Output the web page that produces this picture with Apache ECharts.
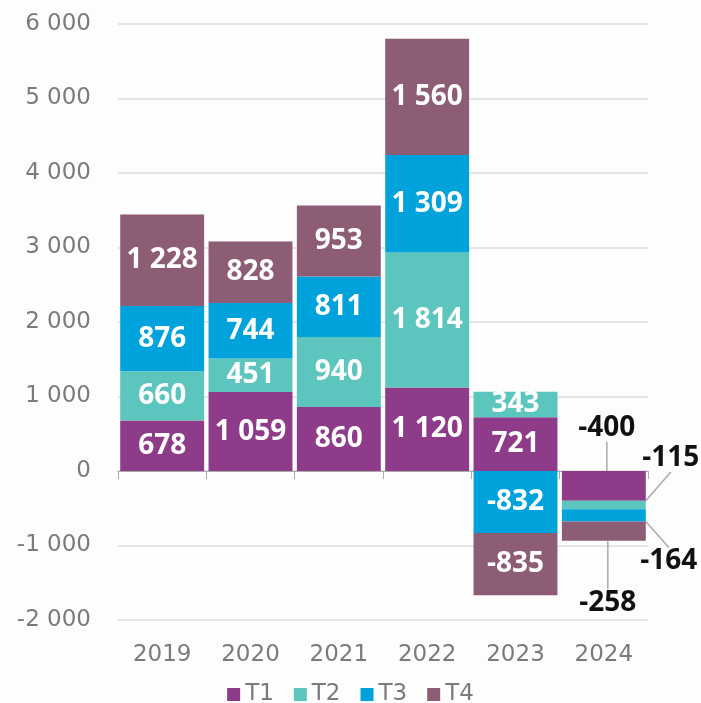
<!DOCTYPE html>
<html>
<head>
<meta charset="utf-8">
<script src="https://cdn.jsdelivr.net/npm/echarts@6/dist/echarts.min.js"></script>
<style>
  html, body { margin: 0; padding: 0; background: #fdfdfd; }
  #chart { width: 701px; height: 703px; }
</style>
</head>
<body>
<div id="chart"></div>
<script>
// données par trimestre
var years = ['2019', '2020', '2021', '2022', '2023', '2024'];
var t1 = [678, 1059, 860, 1120, 721, -400];
var t2 = [660, 451, 940, 1814, 343, -115];
var t3 = [876, 744, 811, 1309, -832, -164];
var t4 = [1228, 828, 953, 1560, -835, -258];
var names = ['T1', 'T2', 'T3', 'T4'];
var colors = ['#8e3c8a', '#5bc5be', '#00a2dc', '#8d5c75'];

// décalage des étiquettes sorties pour 2024 (dx, dy)
var outside = [[3, -58], [67, -47], [65, 46], [4, 72]];

function fmt(v) {
  var s = String(Math.abs(v)).replace(/\B(?=(\d{3})+(?!\d))/g, ' ');
  return (v < 0 ? '-' : '') + s;
}

var myChart = echarts.init(document.getElementById('chart'));
var font = "'Open Sans', sans-serif";
var axisFont = "'DejaVu Sans', sans-serif";

var series = [t1, t2, t3, t4].map(function (arr, i) {
  return {
    name: names[i],
    type: 'bar',
    stack: 'total',
    barCategoryGap: '5%',
    itemStyle: { color: colors[i] },
    label: {
      show: true,
      position: 'inside',
      color: '#fff',
      fontFamily: font,
      fontWeight: 700,
      fontSize: 28,
      formatter: function (p) { return fmt(p.value); }
    },
    labelLine: { show: true, lineStyle: { color: '#aaa', width: 1.5 } },
    labelLayout: function (p) {
      if (p.dataIndex === 5) {
        return { dx: outside[i][0], dy: outside[i][1] };
      }
      return {};
    },
    data: arr.map(function (v, k) {
      if (k === 5) return { value: v, label: { color: '#111' } };
      return v;
    })
  };
});

var option = {
  backgroundColor: '#fdfdfd',
  animation: false,
  grid: { left: 118, right: 53, top: 24, bottom: 83 },
  legend: {
    top: 678,
    icon: 'rect',
    itemWidth: 13,
    itemHeight: 13,
    itemGap: 20,
    textStyle: { fontFamily: axisFont, fontSize: 23, color: '#7b7b7b' },
    data: names
  },
  xAxis: [
    {
      type: 'category',
      data: years,
      position: 'bottom',
      axisLine: { show: false, onZero: false },
      axisTick: { show: false },
      axisLabel: { fontFamily: axisFont, fontSize: 23, color: '#7b7b7b', margin: 24 }
    },
    {
      type: 'category',
      data: years,
      position: 'top',
      axisLine: { show: true, onZero: true, lineStyle: { color: '#aaa' } },
      axisTick: { show: true, inside: true, length: 8, lineStyle: { color: '#aaa' } },
      axisLabel: { show: false }
    }
  ],
  yAxis: {
    type: 'value',
    min: -2000,
    max: 6000,
    interval: 1000,
    axisLine: { show: false },
    axisTick: { show: false },
    splitLine: { lineStyle: { color: '#dcdcdc', width: 1.5 } },
    axisLabel: {
      fontFamily: axisFont,
      fontSize: 23,
      color: '#7b7b7b',
      margin: 27,
      formatter: fmt
    }
  },
  series: series
};

myChart.setOption(option);
</script>
</body>
</html>
